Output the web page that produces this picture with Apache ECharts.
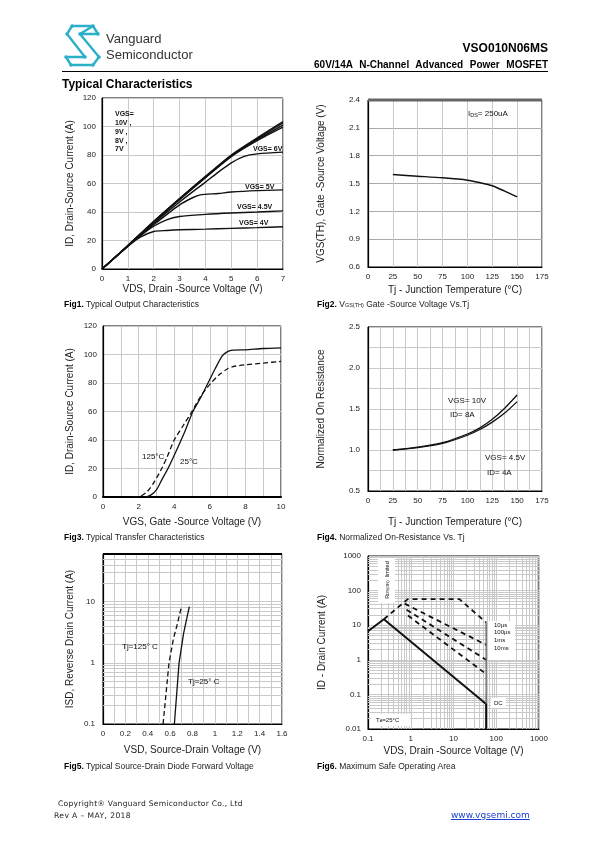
<!DOCTYPE html>
<html><head><meta charset="utf-8">
<script src="https://cdn.jsdelivr.net/npm/echarts@6/dist/echarts.min.js"></script>
<style>
body{margin:0;background:#fff;}
#page{position:relative;width:595px;height:842px;overflow:hidden;font-family:'Liberation Sans',Arial,sans-serif;}
#chart{position:absolute;left:0;top:0;width:595px;height:842px;}
.t{position:absolute;white-space:nowrap;color:#000;line-height:1;}
.cap{font-size:8.5px;color:#222;}
.cap b{color:#000;}
</style></head><body>
<div id="page">
<div id="chart"></div>
<svg style="position:absolute;left:0;top:0" width="120" height="80">
 <g fill="none" stroke="#2bb0c8" stroke-width="2.4" stroke-linejoin="round">
  <path d="M72,26 H93 L98,34 H80 L99,57"/>
  <path d="M72,26 L67,34 L85,57 H66 L71,65 H93 L99,57"/>
  <path d="M93,26 L80,34"/>
 </g>
 <g fill="#2bb0c8">
  <circle cx="72" cy="26" r="1.8"/><circle cx="93" cy="26" r="1.8"/><circle cx="98" cy="34" r="1.8"/>
  <circle cx="67" cy="34" r="1.8"/><circle cx="80" cy="34" r="1.8"/><circle cx="85" cy="57" r="1.8"/>
  <circle cx="66" cy="57" r="1.8"/><circle cx="71" cy="65" r="1.8"/><circle cx="93" cy="65" r="1.8"/><circle cx="99" cy="57" r="1.8"/>
 </g>
</svg>
<div class="t" style="left:106px;top:32px;font-size:13px;color:#333;">Vanguard</div>
<div class="t" style="left:106px;top:48px;font-size:13px;color:#333;">Semiconductor</div>
<div class="t" style="right:47px;top:42px;font-size:12px;font-weight:bold;">VSO010N06MS</div>
<div class="t" style="right:47px;top:60px;font-size:10px;font-weight:bold;word-spacing:3.8px;">60V/14A N-Channel Advanced Power MOSFET</div>
<div style="position:absolute;left:62px;top:71px;width:486px;height:1px;background:#000;"></div>
<div class="t" style="left:62px;top:78px;font-size:12px;font-weight:bold;">Typical Characteristics</div>

<div class="t cap" style="left:64px;top:300px;"><b>Fig1.</b> Typical Output Characteristics</div>
<div class="t cap" style="left:317px;top:300px;"><b>Fig2.</b> V<span style="font-size:5.5px">GS(TH)</span> Gate -Source Voltage Vs.Tj</div>
<div class="t cap" style="left:64px;top:533px;"><b>Fig3.</b> Typical Transfer Characteristics</div>
<div class="t cap" style="left:317px;top:533px;"><b>Fig4.</b> Normalized On-Resistance Vs. Tj</div>
<div class="t cap" style="left:64px;top:762px;"><b>Fig5.</b> Typical Source-Drain Diode Forward Voltage</div>
<div class="t cap" style="left:317px;top:762px;"><b>Fig6.</b> Maximum Safe Operating Area</div>

<div class="t" style="left:58px;top:800px;font-family:'DejaVu Sans';font-size:7.6px;letter-spacing:0.25px;color:#222;">Copyright® Vanguard Semiconductor Co., Ltd</div>
<div class="t" style="left:54px;top:812px;font-family:'DejaVu Sans';font-size:7.6px;letter-spacing:0.4px;color:#222;">Rev A – MAY, 2018</div>
<div class="t" style="left:451px;top:811px;font-family:'DejaVu Sans';font-size:9px;color:#1a3fd0;text-decoration:underline;">www.vgsemi.com</div>
</div>
<script>
// ---------- DATA ----------
// Fig1: ID vs VDS
const fig1Vgs10 = [[0,0],[1,16.5],[2,33.5],[3,49.5],[4,65],[5,80],[6,92],[7,103.5]];
const fig1Vgs9  = [[0,0],[1,16.4],[2,33.2],[3,49.2],[4,64.6],[5,79.6],[6,91.3],[7,102.5]];
const fig1Vgs8  = [[0,0],[1,16.3],[2,33],[3,49],[4,64.3],[5,79.2],[6,90.7],[7,101]];
const fig1Vgs7  = [[0,0],[1,16.2],[2,32.8],[3,48.7],[4,64],[5,78.8],[6,90],[7,99.5]];
const fig1Vgs6  = [[0,0],[1,16],[2,32],[3,47],[4,61],[4.5,68],[5,74.5],[5.5,79],[6,80.8],[7,82]];
const fig1Vgs5  = [[0,0],[1,16],[2,31],[3,45],[3.5,50],[3.8,52],[4.5,53],[5,54],[6,55],[7,55.5]];
const fig1Vgs45 = [[0,0],[1,16],[1.5,23.5],[2,30],[2.5,34.5],[3,36.8],[4,38.3],[5,39.3],[6,40],[7,40.8]];
const fig1Vgs4  = [[0,0],[1,16],[1.5,22.5],[2,26.3],[2.5,27],[3,27.5],[4,28],[5,28.5],[6,29],[7,29.6]];
// Fig2: VGS(th) vs Tj
const fig2Vth = [[25,1.597],[50,1.579],[75,1.561],[100,1.536],[112,1.51],[125,1.475],[137,1.42],[150,1.356]];
// Fig3: transfer
const fig3T25  = [[2.4,0],[2.7,1.5],[3,5],[3.3,12],[3.65,20],[4.1,32],[4.6,46],[5.05,60],[5.5,70],[5.9,80],[6.3,90],[6.7,99],[7,102],[7.3,103],[8,103.3],[9,104.2],[10,104.7]];
const fig3T125 = [[1.7,0],[2.1,0.5],[2.5,4],[2.9,11],[3.3,20],[3.6,28],[4,40],[4.5,50],[5,60],[5.5,71],[6.07,80],[6.5,85.5],[7,90],[7.3,91.5],[8,92.8],[9,94],[10,95.2]];
// Fig4: normalized Rds(on)
const fig4Vgs10 = [[25,1.0],[50,1.035],[75,1.09],[100,1.195],[112.5,1.27],[125,1.375],[137.5,1.51],[150,1.67]];
const fig4Vgs45 = [[25,1.0],[50,1.03],[75,1.08],[100,1.18],[112.5,1.25],[125,1.34],[137.5,1.45],[150,1.59]];
// Fig5: diode forward
const fig5T25  = [[0.638,0.1],[0.68,1],[0.72,3],[0.755,6],[0.772,8.3]];
const fig5T125 = [[0.537,0.1],[0.59,1],[0.63,2.5],[0.66,4],[0.698,7.8]];
// Fig6: SOA
const fig6Dc      = [[0.1,6.7],[0.235,14.9],[58,0.053],[58,0.01]];
const fig6Limit   = [[0.235,14.9],[0.85,56.5],[13.8,56.5],[58,12]];
const fig6Us100   = [[0.72,42],[58,2.7]];
const fig6Ms1     = [[0.8,28],[58,1.0]];
const fig6Ms10    = [[0.86,19],[58,0.39]];
const fig6Vert    = [[58,12],[58,0.053]];
// log minor grid positions
const fig5MinorY = [0.2,0.3,0.4,0.5,0.6,0.7,0.8,0.9,2,3,4,5,6,7,8,9,20,30,40,50];
const fig6MinorX = [0.2,0.3,0.4,0.5,0.6,0.7,0.8,0.9,2,3,4,5,6,7,8,9,20,30,40,50,60,70,80,90,200,300,400,500,600,700,800,900];
const fig6MinorY = [0.02,0.03,0.04,0.05,0.06,0.07,0.08,0.09,0.2,0.3,0.4,0.5,0.6,0.7,0.8,0.9,2,3,4,5,6,7,8,9,20,30,40,50,60,70,80,90,200,300,400,500,600,700,800,900];

// ---------- CHART ----------
const chart = echarts.init(document.getElementById('chart'), null, {renderer:'canvas'});
const NARROW = "'Liberation Sans Narrow','Arial Narrow','Liberation Sans',Arial,sans-serif";
const SANS = "'Liberation Sans',Arial,sans-serif";
const GRIDC = '#c9c9c9';

const grids = [
  {left:102, top:98,  width:181, height:171},
  {left:368, top:100, width:174, height:167},
  {left:103, top:326, width:178, height:171},
  {left:368, top:327, width:174, height:164},
  {left:103, top:554, width:179, height:170},
  {left:368, top:556, width:171, height:173}
].map(g => Object.assign({show:true, borderColor:'#000', borderWidth:1, backgroundColor:'#fff', containLabel:false}, g));

function axisBase(extra){
  return Object.assign({
    axisLine:{show:true, onZero:false, lineStyle:{color:'#000', width:1.2}},
    axisTick:{show:false},
    axisLabel:{fontSize:8, color:'#222', fontFamily:NARROW, margin:6},
    splitLine:{show:true, lineStyle:{color:GRIDC, width:1}},
    nameLocation:'middle',
    nameTextStyle:{fontSize:10, color:'#222', fontFamily:SANS}
  }, extra);
}
const isPow10 = v => Math.abs(Math.log10(v) - Math.round(Math.log10(v))) < 1e-6;
const logFmt = v => isPow10(v) ? String(+v.toPrecision(3)) : '';

const xAxes = [
  axisBase({gridIndex:0, type:'value', min:0, max:7, interval:1, name:'VDS, Drain -Source Voltage (V)', nameGap:15}),
  axisBase({gridIndex:1, type:'value', min:0, max:175, interval:25, name:'Tj - Junction Temperature (°C)', nameGap:18}),
  axisBase({gridIndex:2, type:'value', min:0, max:10, interval:2, name:'VGS, Gate -Source Voltage (V)', nameGap:20,
     minorSplitLine:{show:true, lineStyle:{color:GRIDC}}, minorTick:{show:false, splitNumber:2}, axisLine:{onZero:false, lineStyle:{color:'#000', width:2}}}),
  axisBase({gridIndex:3, type:'value', min:0, max:175, interval:25, name:'Tj - Junction Temperature (°C)', nameGap:26,
     minorSplitLine:{show:true, lineStyle:{color:GRIDC}}, minorTick:{show:false, splitNumber:2}}),
  axisBase({gridIndex:4, type:'value', min:0, max:1.6, interval:0.2, name:'VSD, Source-Drain Voltage (V)', nameGap:21,
     minorSplitLine:{show:true, lineStyle:{color:GRIDC}}, minorTick:{show:false, splitNumber:2}}),
  axisBase({gridIndex:5, type:'log', logBase:10, min:0.1, max:1000, name:'VDS, Drain -Source Voltage (V)', nameGap:17,
     axisLabel:{fontSize:8, color:'#222', fontFamily:NARROW, margin:6, formatter:logFmt}})
];
const yAxes = [
  axisBase({gridIndex:0, type:'value', min:0, max:120, interval:20, name:'ID, Drain-Source Current (A)', nameGap:27}),
  axisBase({gridIndex:1, type:'value', min:0.6, max:2.4, interval:0.3, name:'VGS(TH), Gate -Source Voltage (V)', nameGap:42,
     axisLabel:{fontSize:8, color:'#222', fontFamily:NARROW, margin:8, formatter:v=>v.toFixed(1)}, splitLine:{lineStyle:{color:'#aaa'}}}),
  axisBase({gridIndex:2, type:'value', min:0, max:120, interval:20, name:'ID, Drain-Source Current (A)', nameGap:28}),
  axisBase({gridIndex:3, type:'value', min:0.5, max:2.5, interval:0.5, name:'Normalized On Resistance', nameGap:42,
     axisLabel:{fontSize:8, color:'#222', fontFamily:NARROW, margin:8, formatter:v=>v.toFixed(1)},
     minorSplitLine:{show:true, lineStyle:{color:GRIDC}}, minorTick:{show:false, splitNumber:2}}),
  axisBase({gridIndex:4, type:'log', logBase:10, min:0.1, max:60, name:'ISD, Reverse Drain Current (A)', nameGap:28,
     axisLabel:{fontSize:8, color:'#222', fontFamily:NARROW, margin:8, formatter:logFmt, showMaxLabel:false}}),
  axisBase({gridIndex:5, type:'log', logBase:10, min:0.01, max:1000, name:'ID - Drain Current (A)', nameGap:41,
     axisLabel:{fontSize:8, color:'#222', fontFamily:NARROW, margin:7, formatter:logFmt}})
];

function ln(idx, data, o){
  o = o || {};
  return {
    type:'line', xAxisIndex:idx, yAxisIndex:idx, data:data, showSymbol:false, silent:true,
    smooth:o.smooth === undefined ? 0.25 : o.smooth, z: o.z || 5,
    lineStyle:{color:o.color||'#111', width:o.width||1.4, type:o.type||'solid'}
  };
}
function minorLines(idx, xs, ys){
  const d = [];
  (xs||[]).forEach(v => d.push({xAxis:v}));
  (ys||[]).forEach(v => d.push({yAxis:v}));
  return {
    type:'line', xAxisIndex:idx, yAxisIndex:idx, data:[], silent:true, z:1,
    markLine:{silent:true, symbol:'none', animation:false, label:{show:false},
      lineStyle:{color:GRIDC, width:1, type:'solid'}, data:d}
  };
}

const series = [
  ln(0, fig1Vgs10), ln(0, fig1Vgs9), ln(0, fig1Vgs8), ln(0, fig1Vgs7),
  ln(0, fig1Vgs6), ln(0, fig1Vgs5), ln(0, fig1Vgs45), ln(0, fig1Vgs4),
  ln(1, fig2Vth, {width:1.5}),
  ln(2, fig3T25, {width:1.3}), ln(2, fig3T125, {width:1.3, type:[5,3]}),
  ln(3, fig4Vgs10, {width:1.3}), ln(3, fig4Vgs45, {width:1.3}),
  minorLines(4, null, fig5MinorY),
  ln(4, fig5T25, {width:1.3, smooth:false}), ln(4, fig5T125, {width:1.3, smooth:false, type:[5,3]}),
  minorLines(5, fig6MinorX, fig6MinorY),
  ln(5, fig6Dc, {width:2, smooth:false}),
  ln(5, fig6Limit, {width:1.8, smooth:false, type:[5,4]}),
  ln(5, fig6Us100, {width:1.8, smooth:false, type:[5,4]}),
  ln(5, fig6Ms1, {width:1.8, smooth:false, type:[5,4]}),
  ln(5, fig6Ms10, {width:1.8, smooth:false, type:[5,4]}),
  ln(5, fig6Vert, {width:1.2, smooth:false, color:'#555'})
];

function txt(x, y, s, o){
  o = o || {};
  return {type:'text', x:x, y:y, z:100, rotation:o.rotation||0,
    style:Object.assign({text:s, fill:'#111', font:(o.weight||'normal')+' '+(o.size||8)+'px '+(o.family||NARROW),
      verticalAlign:'middle', align:o.align||'left'}, o.style||{})};
}

const graphic = [
  // plot borders that are heavier in the reference
  {type:'line', z:50, shape:{x1:368, y1:100, x2:542, y2:100}, style:{stroke:'#666', lineWidth:3}},
  {type:'line', z:50, shape:{x1:103, y1:554, x2:282, y2:554}, style:{stroke:'#000', lineWidth:2}},
  // Fig1 labels
  txt(115, 114, 'VGS=', {weight:'bold', size:7}),
  txt(115, 123, '10V ,', {weight:'bold', size:7}),
  txt(115, 132, '9V ,', {weight:'bold', size:7}),
  txt(115, 141, '8V ,', {weight:'bold', size:7}),
  txt(115, 149, '7V', {weight:'bold', size:7}),
  txt(253, 149, 'VGS= 6V', {weight:'bold', size:7}),
  txt(245, 187, 'VGS= 5V', {weight:'bold', size:7}),
  txt(237, 207, 'VGS= 4.5V', {weight:'bold', size:7}),
  txt(239, 223, 'VGS= 4V', {weight:'bold', size:7}),
  // Fig2
  {type:'text', x:468, y:114, z:100, style:{text:'{a|I}{s|DS}{a|= 250uA}', verticalAlign:'middle',
     rich:{a:{fontSize:8, fontFamily:NARROW, fill:'#111'}, s:{fontSize:5.5, fontFamily:NARROW, fill:'#111', padding:[3,0,0,0]}}}},
  // Fig3
  txt(142, 457, '125°C', {size:8, family:SANS}),
  txt(180, 462, '25°C', {size:8, family:SANS}),
  // Fig4
  txt(448, 401, 'VGS= 10V', {size:8}),
  txt(450, 415, 'ID= 8A', {size:8}),
  txt(485, 458, 'VGS= 4.5V', {size:8}),
  txt(487, 473, 'ID= 4A', {size:8}),
  // Fig5
  txt(122, 647, 'Tj=125° C', {size:8}),
  txt(188, 682, 'Tj=25° C', {size:8}),
  // Fig6
  {type:'rect', z:90, shape:{x:488, y:621, width:27, height:39}, style:{fill:'#fff'}},
  txt(494, 625, '10µs', {size:6, family:SANS}),
  txt(494, 632.5, '100µs', {size:6, family:SANS}),
  txt(494, 640, '1ms', {size:6, family:SANS}),
  txt(494, 648, '10ms', {size:6, family:SANS}),
  {type:'rect', z:90, shape:{x:491, y:698, width:15, height:10}, style:{fill:'#fff'}},
  txt(494, 703, 'DC', {size:6, family:SANS}),
  {type:'rect', z:90, shape:{x:371, y:714, width:39, height:12}, style:{fill:'#fff'}},
  {type:'text', x:376, y:720, z:100, style:{text:'{a|T}{s|A}{a|=25°C}', verticalAlign:'middle',
     rich:{a:{fontSize:6, fontFamily:SANS, fill:'#111'}, s:{fontSize:4, fontFamily:SANS, fill:'#111', padding:[2,0,0,0]}}}},
  {type:'rect', z:90, shape:{x:378, y:558, width:17, height:45}, style:{fill:'#fff'}},
  {type:'text', x:387, y:580, z:100, rotation:Math.PI/2, style:{text:'{a|R}{s|DS(ON)} {a|limited}', align:'center', verticalAlign:'middle',
     rich:{a:{fontSize:5.5, fontFamily:SANS, fill:'#111'}, s:{fontSize:4, fontFamily:SANS, fill:'#111', padding:[2,0,0,0]}}}}
];

chart.setOption({
  animation:false,
  backgroundColor:'transparent',
  grid:grids, xAxis:xAxes, yAxis:yAxes, series:series, graphic:graphic
});
</script>
</body></html>
